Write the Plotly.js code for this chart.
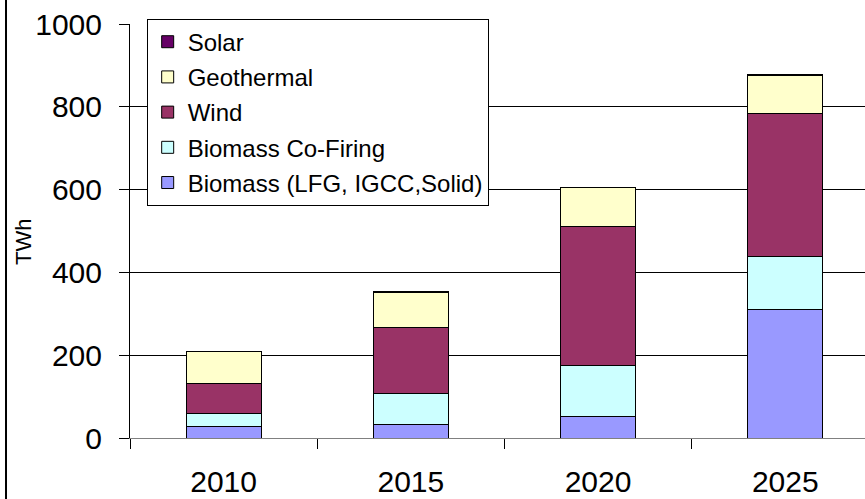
<!DOCTYPE html>
<html>
<head>
<meta charset="utf-8">
<script src="https://cdn.plot.ly/plotly-3.0.1.min.js"></script>
<style>
html,body{margin:0;padding:0;background:#fff;}
#chart{width:865px;height:499px;}
</style>
</head>
<body>
<div id="chart"></div>
<script>
const years = ['2010', '2015', '2020', '2025'];
const biomass = [27, 33, 51, 311];
const coFiring = [33, 74, 124, 127];
const wind = [72, 161, 337, 346];
const geothermal = [77, 84, 92, 91];
const solar = [1, 1, 1, 2];
const yTicks = [0, 200, 400, 600, 800, 1000];
const yTitle = 'TWh';

const FONT = 'Liberation Sans, Arial, sans-serif';
function bar(name, vals, color, grp, rank) {
  return {
    type: 'bar', name: name, x: years, y: vals, width: 0.4,
    legendgroup: grp, legendrank: rank,
    marker: {color: color, line: {color: '#000', width: 1}},
    hoverinfo: 'skip'
  };
}
const data = [
  bar('Biomass (LFG, IGCC,Solid)', biomass, '#9999FF', 'a', 5),
  bar('Biomass Co-Firing', coFiring, '#CCFFFF', 'b', 4),
  bar('Wind', wind, '#993366', 'c', 3),
  bar('Geothermal', geothermal, '#FFFFCC', 'd', 2),
  bar('Solar', solar, '#660066', 'e', 1)
];
const layout = {
  width: 865, height: 499,
  margin: {l: 130, r: 0, t: 24, b: 61, pad: 0},
  barmode: 'stack',
  paper_bgcolor: '#fff', plot_bgcolor: '#fff',
  font: {family: FONT, color: '#000'},
  showlegend: true,
  legend: {
    x: 0.0227, y: 1.013, xanchor: 'left', yanchor: 'top',
    bordercolor: '#000', borderwidth: 1, bgcolor: '#fff',
    font: {family: FONT, size: 24, color: '#000'},
    traceorder: 'grouped', tracegroupgap: 1
  },
  xaxis: {
    type: 'category', range: [-0.5, 3.426],
    tickson: 'boundaries', ticks: 'outside', ticklen: 10, tickcolor: '#000',
    showgrid: false, showline: true, linecolor: '#808080', linewidth: 1,
    tickfont: {family: FONT, size: 30, color: '#000'},
    ticklabelstandoff: 17, fixedrange: true
  },
  yaxis: {
    range: [0, 1000], tickvals: yTicks, ticktext: yTicks.map(String),
    ticks: 'outside', ticklen: 10, tickcolor: '#000',
    showgrid: true, gridcolor: '#000', gridwidth: 1,
    zeroline: false, showline: true, linecolor: '#000', linewidth: 1,
    tickfont: {family: FONT, size: 30, color: '#000'},
    ticklabelstandoff: 11,
    fixedrange: true
  },
  annotations: [
    {text: yTitle, xref: 'paper', yref: 'paper', x: -0.1456, y: 0.4734,
     xanchor: 'center', yanchor: 'middle', textangle: -90, showarrow: false,
     font: {family: FONT, size: 22, color: '#000'}}
  ],
  shapes: [
    {type: 'line', xref: 'paper', yref: 'paper', x0: -0.1687, x1: -0.1687, y0: -0.2, y1: 1.1,
     line: {color: '#000', width: 2}}
  ]
};
Plotly.newPlot('chart', data, layout, {displayModeBar: false, staticPlot: true});
</script>
</body>
</html>
